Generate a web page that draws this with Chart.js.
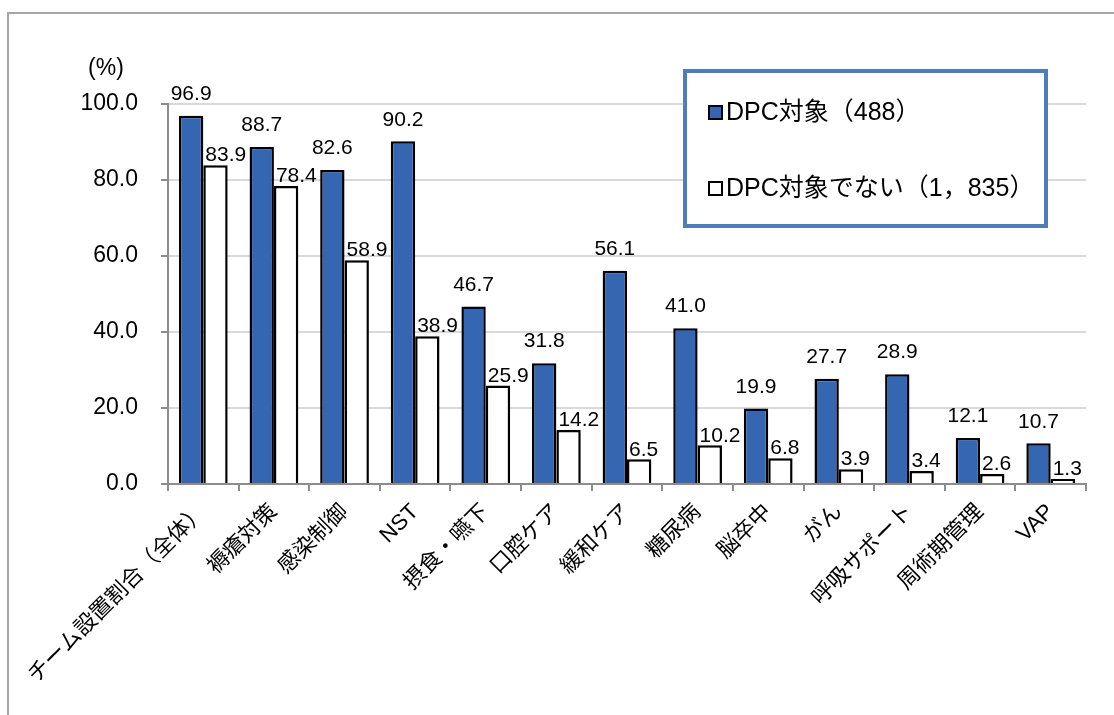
<!DOCTYPE html>
<html lang="ja">
<head>
<meta charset="UTF-8" />
<title>チーム設置割合</title>
<script src="https://cdn.jsdelivr.net/npm/chart.js"></script>
<style>
body {
    margin: 0;
    background: #fff;
}
.frame {
    position: absolute;
    left: 7px;
    top: 12px;
    width: 1200px;
    height: 800px;
    border-top: 2px solid #a6a6a6;
    border-left: 2px solid #a6a6a6;
}
#teamChart {
    position: absolute;
    left: 0;
    top: 0;
}
</style>
</head>
<body>
<div class="frame"></div>
<canvas id="teamChart" width="1114" height="715"></canvas>

<script>
// categories and values
const categories = ['チーム設置割合（全体）', '褥瘡対策', '感染制御', 'NST', '摂食・嚥下', '口腔ケア',
    '緩和ケア', '糖尿病', '脳卒中', 'がん', '呼吸サポート', '周術期管理', 'VAP'];
const dpcValues = [96.9, 88.7, 82.6, 90.2, 46.7, 31.8, 56.1, 41.0, 19.9, 27.7, 28.9, 12.1, 10.7];
const nonDpcValues = [83.9, 78.4, 58.9, 38.9, 25.9, 14.2, 6.5, 10.2, 6.8, 3.9, 3.4, 2.6, 1.3];
const seriesNames = ['DPC対象（488）', 'DPC対象でない（1，835）'];
const yTicks = [0, 20, 40, 60, 80, 100];

const FONT = '"Liberation Sans", Arial, "Noto Sans CJK JP", sans-serif';

// value labels above bars, unit label and boxed legend
const overlay = {
    id: 'overlay',
    afterDatasetsDraw(chart) {
        const ctx = chart.ctx;
        ctx.save();
        ctx.fillStyle = '#000';
        ctx.font = '21px ' + FONT;
        ctx.textBaseline = 'bottom';
        chart.getDatasetMeta(0).data.forEach((bar, i) => {
            ctx.textAlign = 'center';
            ctx.fillText(dpcValues[i].toFixed(1), bar.x, bar.y - 11);
        });
        chart.getDatasetMeta(1).data.forEach((bar, i) => {
            ctx.textAlign = 'left';
            ctx.fillText(nonDpcValues[i].toFixed(1), bar.x - bar.width / 2 + 2, bar.y + 1);
        });

        // unit
        ctx.font = '23px ' + FONT;
        ctx.textAlign = 'center';
        ctx.textBaseline = 'middle';
        ctx.fillText('(%)', 106, 69);

        // legend box
        ctx.fillStyle = '#fff';
        ctx.fillRect(685, 71, 361, 155);
        ctx.strokeStyle = '#4f7db8';
        ctx.lineWidth = 4;
        ctx.strokeRect(685, 71, 361, 155);
        ctx.font = '25px ' + FONT;
        ctx.textAlign = 'left';
        const rows = [113, 189];
        chart.data.datasets.forEach((ds, i) => {
            const y = rows[i];
            ctx.fillStyle = ds.backgroundColor;
            ctx.fillRect(709, y - 7, 13, 13);
            ctx.strokeStyle = '#000';
            ctx.lineWidth = 2;
            ctx.strokeRect(709, y - 7, 13, 13);
            ctx.fillStyle = '#000';
            ctx.fillText(ds.label, 726, y);
        });
        ctx.restore();
    }
};

new Chart(document.getElementById('teamChart'), {
    type: 'bar',
    data: {
        labels: categories,
        datasets: [
            {
                label: seriesNames[0],
                data: dpcValues,
                backgroundColor: '#3566b2',
                borderColor: '#000',
                borderWidth: 2.5,
                categoryPercentage: 0.69,
                barPercentage: 1
            },
            {
                label: seriesNames[1],
                data: nonDpcValues,
                backgroundColor: '#ffffff',
                borderColor: '#000',
                borderWidth: 2.5,
                categoryPercentage: 0.69,
                barPercentage: 1
            }
        ]
    },
    options: {
        responsive: false,
        animation: false,
        layout: { padding: { top: 104, right: 28, left: 0, bottom: 0 } },
        plugins: {
            legend: { display: false },
            tooltip: { enabled: false }
        },
        scales: {
            x: {
                afterFit(scale) { scale.height = 231; },
                grid: {
                    drawOnChartArea: false,
                    drawTicks: true,
                    tickLength: 7,
                    color: '#8c8c8c',
                    lineWidth: 2
                },
                border: { color: '#8c8c8c', width: 2 },
                ticks: {
                    autoSkip: false,
                    minRotation: 45,
                    maxRotation: 45,
                    padding: 8,
                    color: '#000',
                    font: { family: FONT, size: 22 }
                }
            },
            y: {
                min: 0,
                max: 100,
                afterFit(scale) { scale.width = 168; },
                afterBuildTicks(scale) {
                    scale.ticks = yTicks.map(v => ({ value: v }));
                },
                grid: {
                    color: '#d9d9d9',
                    lineWidth: 2,
                    tickLength: 7,
                    tickColor: '#8c8c8c'
                },
                border: { color: '#8c8c8c', width: 2 },
                ticks: {
                    padding: 23,
                    color: '#000',
                    font: { family: FONT, size: 23 },
                    callback: v => v.toFixed(1)
                }
            }
        }
    },
    plugins: [overlay]
});
</script>
</body>
</html>
